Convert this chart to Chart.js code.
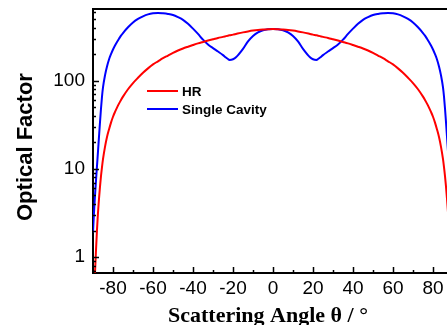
<!DOCTYPE html>
<html>
<head>
<meta charset="utf-8">
<script src="https://cdn.jsdelivr.net/npm/chart.js@4.4.0/dist/chart.umd.min.js"></script>
<style>
  html, body { margin: 0; padding: 0; background: #fff; overflow: hidden; }
  canvas { display: block; }
</style>
</head>
<body>
<canvas id="chart" width="460" height="325"></canvas>
<script>
// Scattering angle (degrees)
const scatterAngle = [
  -90, -89.5, -89, -88.5, -88, -87.5, -87, -86.5, -86, -85.5, -85, -84, -83, -82, -81, -80,
  -79, -78, -77, -76, -75, -72.5, -70, -67.5, -65, -62.5, -60, -57.5, -55, -52.5, -50,
  -47.5, -45, -42.5, -40, -37.5, -35, -32.5, -30, -27.5, -25, -23.5, -22.5, -21.75, -20, -18.5,
  -15, -12.5, -10, -7.5, -5, -2.5, 0,
  2.5, 5, 7.5, 10, 12.5, 15, 18.5, 20, 21.75, 22.5, 23.5, 25, 27.5, 30, 32.5, 35, 37.5, 40,
  42.5, 45, 47.5, 50, 52.5, 55, 57.5, 60, 62.5, 65, 67.5, 70, 72.5, 75, 76, 77, 78, 79,
  80, 81, 82, 83, 84, 85, 85.5, 86, 86.5, 87, 87.5, 88, 88.5, 89, 89.5, 90
];

// HR optical factor
const hrFactor = [
  0.13, 0.32, 0.66, 1.2, 2.05, 3.2, 4.6, 6.3, 8.3, 10.5, 12.9, 17.8, 23, 28, 33.5, 39,
  44.2, 49.5, 55, 60.5, 66, 80, 94, 108, 123, 138, 153, 166, 180, 193, 207,
  220, 232, 243, 254, 265, 275, 285, 295, 305, 314, 320, 324, 327, 333, 339,
  353, 362, 370, 376, 380, 383, 385,
  383, 380, 376, 370, 362, 353, 339, 333, 327, 324, 320, 314, 305, 295, 285, 275, 265, 254,
  243, 232, 220, 207, 193, 180, 166, 153, 138, 123, 108, 94, 80, 66, 60.5, 55, 49.5, 44.2,
  39, 33.5, 28, 23, 17.8, 12.9, 10.5, 8.3, 6.3, 4.6, 3.2, 2.05, 1.2, 0.66, 0.32, 0.13
];

// Single cavity optical factor
const cavityFactor = [
  1.9, 3.2, 5.0, 7.4, 10.8, 15.8, 23.2, 33.9, 48.4, 66, 84, 115, 145, 174, 200, 226,
  251, 275, 299, 324, 347, 403, 457, 501, 537, 565, 581, 587, 581, 571, 555,
  525, 490, 442, 389, 339, 292, 257, 234, 214, 195, 183, 176, 172, 175, 184,
  229, 279, 322, 353, 373, 383, 385,
  383, 373, 353, 322, 279, 229, 184, 175, 172, 176, 183, 195, 214, 234, 257, 292, 339, 389,
  442, 490, 525, 555, 571, 581, 587, 581, 565, 537, 501, 457, 403, 347, 324, 299, 275, 251,
  226, 200, 174, 145, 115, 84, 66, 48.4, 33.9, 23.2, 15.8, 10.8, 7.4, 5.0, 3.2, 1.9
];

// Axis ticks
const xTicks = [-80, -60, -40, -20, 0, 20, 40, 60, 80];
const xMinor = [-90, -70, -50, -30, -10, 10, 30, 50, 70, 90];
const yTicks = [1, 10, 100];
const yMinor = [0.7, 0.8, 0.9, 2, 3, 4, 5, 6, 7, 8, 9, 20, 30, 40, 50, 60, 70, 80, 90, 200, 300, 400, 500, 600];

function toPoints(values) {
  return scatterAngle.map((a, i) => ({ x: a, y: values[i] }));
}

// inward tick marks, top frame, legend and axis titles
const decorations = {
  id: "decorations",
  afterDatasetsDraw(chart) {
    const { ctx, chartArea: a, scales: { x, y } } = chart;
    ctx.save();
    ctx.strokeStyle = "#000";
    ctx.lineWidth = 1.5;
    ctx.beginPath();
    xTicks.forEach(v => {
      const px = Math.round(x.getPixelForValue(v)) + 0.5;
      ctx.moveTo(px, a.bottom); ctx.lineTo(px, a.bottom - 6);
    });
    xMinor.forEach(v => {
      const px = Math.round(x.getPixelForValue(v)) + 0.5;
      ctx.moveTo(px, a.bottom); ctx.lineTo(px, a.bottom - 3);
    });
    yTicks.forEach(v => {
      const py = Math.round(y.getPixelForValue(v)) + 0.5;
      ctx.moveTo(a.left, py); ctx.lineTo(a.left + 6, py);
    });
    yMinor.forEach(v => {
      const py = Math.round(y.getPixelForValue(v)) + 0.5;
      ctx.moveTo(a.left, py); ctx.lineTo(a.left + 3, py);
    });
    ctx.stroke();

    // frame top + right
    ctx.lineWidth = 2;
    ctx.beginPath();
    ctx.moveTo(a.left, a.top); ctx.lineTo(a.right, a.top); ctx.lineTo(a.right, a.bottom);
    ctx.stroke();
    ctx.restore();
  },
  afterDraw(chart) {
    const ctx = chart.ctx;
    ctx.save();
    // legend
    const rows = [95.5, 113.5];
    chart.data.datasets.forEach((ds, i) => {
      const yy = rows[i] - 4.5;
      ctx.strokeStyle = ds.borderColor;
      ctx.lineWidth = 2;
      ctx.beginPath();
      ctx.moveTo(147, yy); ctx.lineTo(178, yy);
      ctx.stroke();
      ctx.fillStyle = "#000";
      ctx.font = "bold 13.5px 'Liberation Sans', Arial, sans-serif";
      ctx.textAlign = "left";
      ctx.textBaseline = "alphabetic";
      ctx.fillText(ds.label, 182, rows[i]);
    });

    // y title
    ctx.font = "bold 22px 'Liberation Sans', Arial, sans-serif";
    ctx.translate(31.5, 221);
    ctx.rotate(-Math.PI / 2);
    ctx.fillText("Optical Factor", 0, 0);
    ctx.setTransform(1, 0, 0, 1, 0, 0);

    // x title
    ctx.font = "bold 22px 'Liberation Serif', 'Times New Roman', serif";
    ctx.fillText("Scattering Angle \u03b8 / \u00b0", 168, 322);
    ctx.restore();
  }
};

const tickFont = { family: "'Liberation Sans', Arial, sans-serif", size: 19 };

new Chart(document.getElementById("chart"), {
  type: "line",
  data: {
    datasets: [{
      label: "HR",
      data: toPoints(hrFactor),
      borderColor: "#ff0000",
      borderWidth: 2,
      pointRadius: 0,
      cubicInterpolationMode: "monotone",
      fill: false
    }, {
      label: "Single Cavity",
      data: toPoints(cavityFactor),
      borderColor: "#0000ff",
      borderWidth: 2,
      pointRadius: 0,
      cubicInterpolationMode: "monotone",
      fill: false
    }]
  },
  options: {
    responsive: false,
    animation: false,
    layout: { padding: { top: 9, right: 7, left: 0, bottom: 0 } },
    plugins: { legend: { display: false }, tooltip: { enabled: false } },
    scales: {
      x: {
        type: "linear",
        min: -90,
        max: 90,
        afterBuildTicks: s => { s.ticks = xTicks.map(v => ({ value: v })); },
        afterFit: s => { s.height = 52; s.paddingLeft = 0; s.paddingRight = 0; },
        grid: { display: false, drawTicks: false },
        border: { color: "#000", width: 2 },
        ticks: { font: tickFont, color: "#000", padding: 4, maxRotation: 0, autoSkip: false }
      },
      y: {
        type: "logarithmic",
        min: 0.66,
        max: 650,
        afterBuildTicks: s => { s.ticks = yTicks.map(v => ({ value: v })); },
        afterFit: s => { s.width = 93; s.paddingTop = 0; s.paddingBottom = 0; },
        grid: { display: false, drawTicks: false },
        border: { color: "#000", width: 2 },
        ticks: { font: tickFont, color: "#000", padding: 8, callback: v => String(v) }
      }
    }
  },
  plugins: [decorations]
});
</script>
</body>
</html>
